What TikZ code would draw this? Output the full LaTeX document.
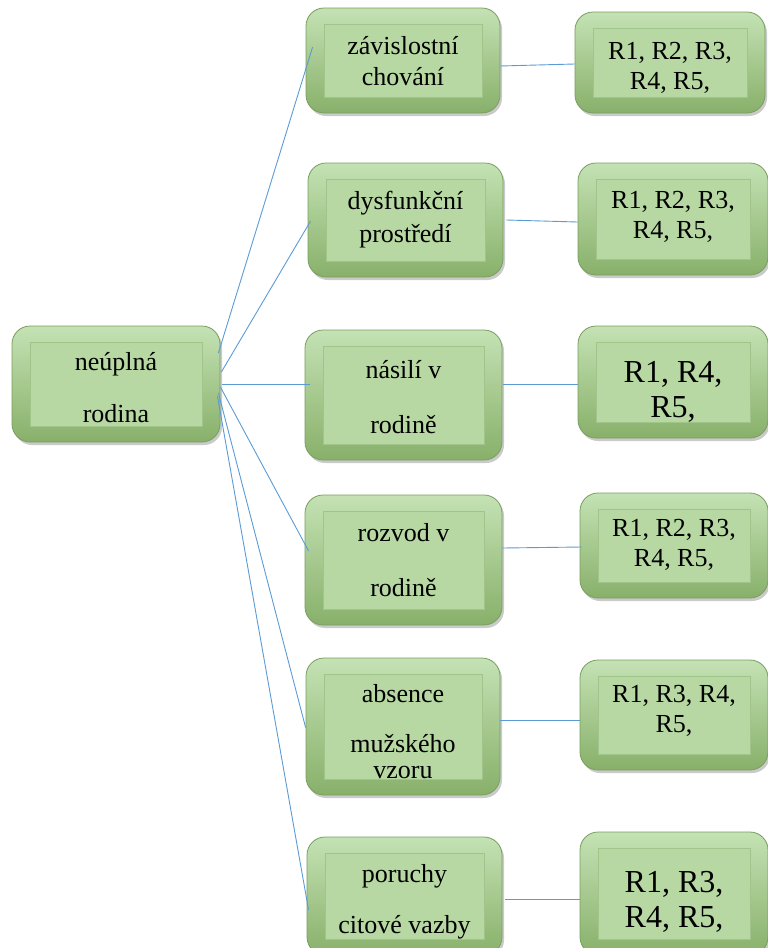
\documentclass[tikz,border=0pt]{standalone}
\usepackage{fontspec}
\setmainfont{Liberation Serif}
\usetikzlibrary{shadows}
\definecolor{rimtop}{RGB}{196,226,180}
\definecolor{rimbot}{RGB}{136,176,106}
\definecolor{edgegreen}{RGB}{120,158,94}
\definecolor{innergreen}{RGB}{183,216,163}
\definecolor{innerline}{RGB}{160,196,138}
\definecolor{connblue}{RGB}{91,155,213}
\tikzset{
  gbox/.style={rounded corners=18pt, draw=edgegreen, line width=0.8pt,
    top color=rimtop, bottom color=rimbot,
    drop shadow={shadow xshift=2pt, shadow yshift=-3pt, opacity=0.35, fill=black!60},
    inner sep=0pt,
    path picture={\fill[sharp corners, innergreen, draw=innerline, line width=1pt]
      ([shift={(18pt,-16pt)}]path picture bounding box.north west) rectangle
      ([shift={(-18pt,16pt)}]path picture bounding box.south east);}},
  midfont/.style={align=center, inner sep=0pt, font=\fontsize{26}{31}\selectfont},
  rfont/.style={align=center, inner sep=0pt, font=\fontsize{26}{30}\selectfont},
  bigfont/.style={align=center, inner sep=0pt, font=\fontsize{32}{35}\selectfont},
  connline/.style={draw=connblue, line width=0.9pt}
}
\begin{document}
\begin{tikzpicture}[x=1pt,y=-1pt]
\useasboundingbox (0,0) rectangle (768,948);
% root
\node[gbox, minimum width=208pt, minimum height=116pt] (root) at (116,384) {};
\node[midfont] (troot) at (116,388) {neúplná\\[21pt]rodina};
% middle column
\node[gbox, minimum width=194pt, minimum height=105pt] (m1) at (403,60.5) {};
\node[midfont] (tm1) at (403,61) {závislostní\\chování};
\node[gbox, minimum width=195pt, minimum height=114pt] (m2) at (405.5,220) {};
\node[midfont] (tm2) at (405.5,220) {dysfunkční\\[2pt]prostředí};
\node[gbox, minimum width=197pt, minimum height=130pt] (m3) at (403.5,395) {};
\node[midfont] (tm3) at (403.5,397) {násilí v\\[24pt]rodině};
\node[gbox, minimum width=197pt, minimum height=130pt] (m4) at (403.5,560) {};
\node[midfont] (tm4) at (403.5,560) {rozvod v\\[24pt]rodině};
\node[gbox, minimum width=194pt, minimum height=137pt] (m5) at (403,726.5) {};
\node[midfont] (tm5) at (403,731.5) {absence\\[19pt]mužského\\[-5pt]vzoru};
\node[gbox, minimum width=195pt, minimum height=118pt] (m6) at (404.5,896) {};
\node[midfont] (tm6) at (404.5,902) {poruchy\\[20pt]citové vazby};
% right column
\node[gbox, minimum width=190pt, minimum height=101pt] (r1) at (670,62.5) {};
\node[rfont] (tr1) at (670,67.5) {R1, R2, R3,\\R4, R5,};
\node[gbox, minimum width=190pt, minimum height=112pt] (r2) at (673,219) {};
\node[rfont] (tr2) at (673,217) {R1, R2, R3,\\R4, R5,};
\node[gbox, minimum width=190pt, minimum height=112pt] (r3) at (673,382) {};
\node[bigfont] (tr3) at (673,392) {R1, R4,\\R5,};
\node[gbox, minimum width=188pt, minimum height=105pt] (r4) at (674,545.5) {};
\node[rfont] (tr4) at (674,545) {R1, R2, R3,\\R4, R5,};
\node[gbox, minimum width=188pt, minimum height=110pt] (r5) at (674,715) {};
\node[rfont] (tr5) at (674,711) {R1, R3, R4,\\R5,};
\node[gbox, minimum width=188pt, minimum height=123pt] (r6) at (674,893.5) {};
\node[bigfont] (tr6) at (674,902) {R1, R3,\\R4, R5,};
% connectors root -> middle
\draw[connline] ([shift={(-2,-31)}]root.east) -- ([shift={(7,-13.5)}]m1.west);
\draw[connline] ([shift={(1,-12)}]root.east) -- ([shift={(3,1)}]m2.west);
\draw[connline] ([shift={(2,0)}]root.east) -- ([shift={(5,-11)}]m3.west);
\draw[connline] ([shift={(0,3)}]root.east) -- ([shift={(4,-9)}]m4.west);
\draw[connline] ([shift={(-2,9)}]root.east) -- ([shift={(0,1)}]m5.west);
\draw[connline] ([shift={(-3,12)}]root.east) -- ([shift={(2,14)}]m6.west);
% connectors middle -> right
\draw[connline] ([shift={(0,5.5)}]m1.east) -- ([shift={(0,1.5)}]r1.west);
\draw[connline] ([shift={(3,0)}]m2.east) -- ([shift={(0,3)}]r2.west);
\draw[connline] ([shift={(1,-11)}]m3.east) -- ([shift={(0,2)}]r3.west);
\draw[connline] ([shift={(0,-12)}]m4.east) -- ([shift={(2,1.5)}]r4.west);
\draw[connline] ([shift={(0,-6.5)}]m5.east) -- ([shift={(0,5)}]r5.west);
\draw[connline] ([shift={(3,3)}]m6.east) -- ([shift={(0,5.5)}]r6.west);
\end{tikzpicture}
\end{document}
